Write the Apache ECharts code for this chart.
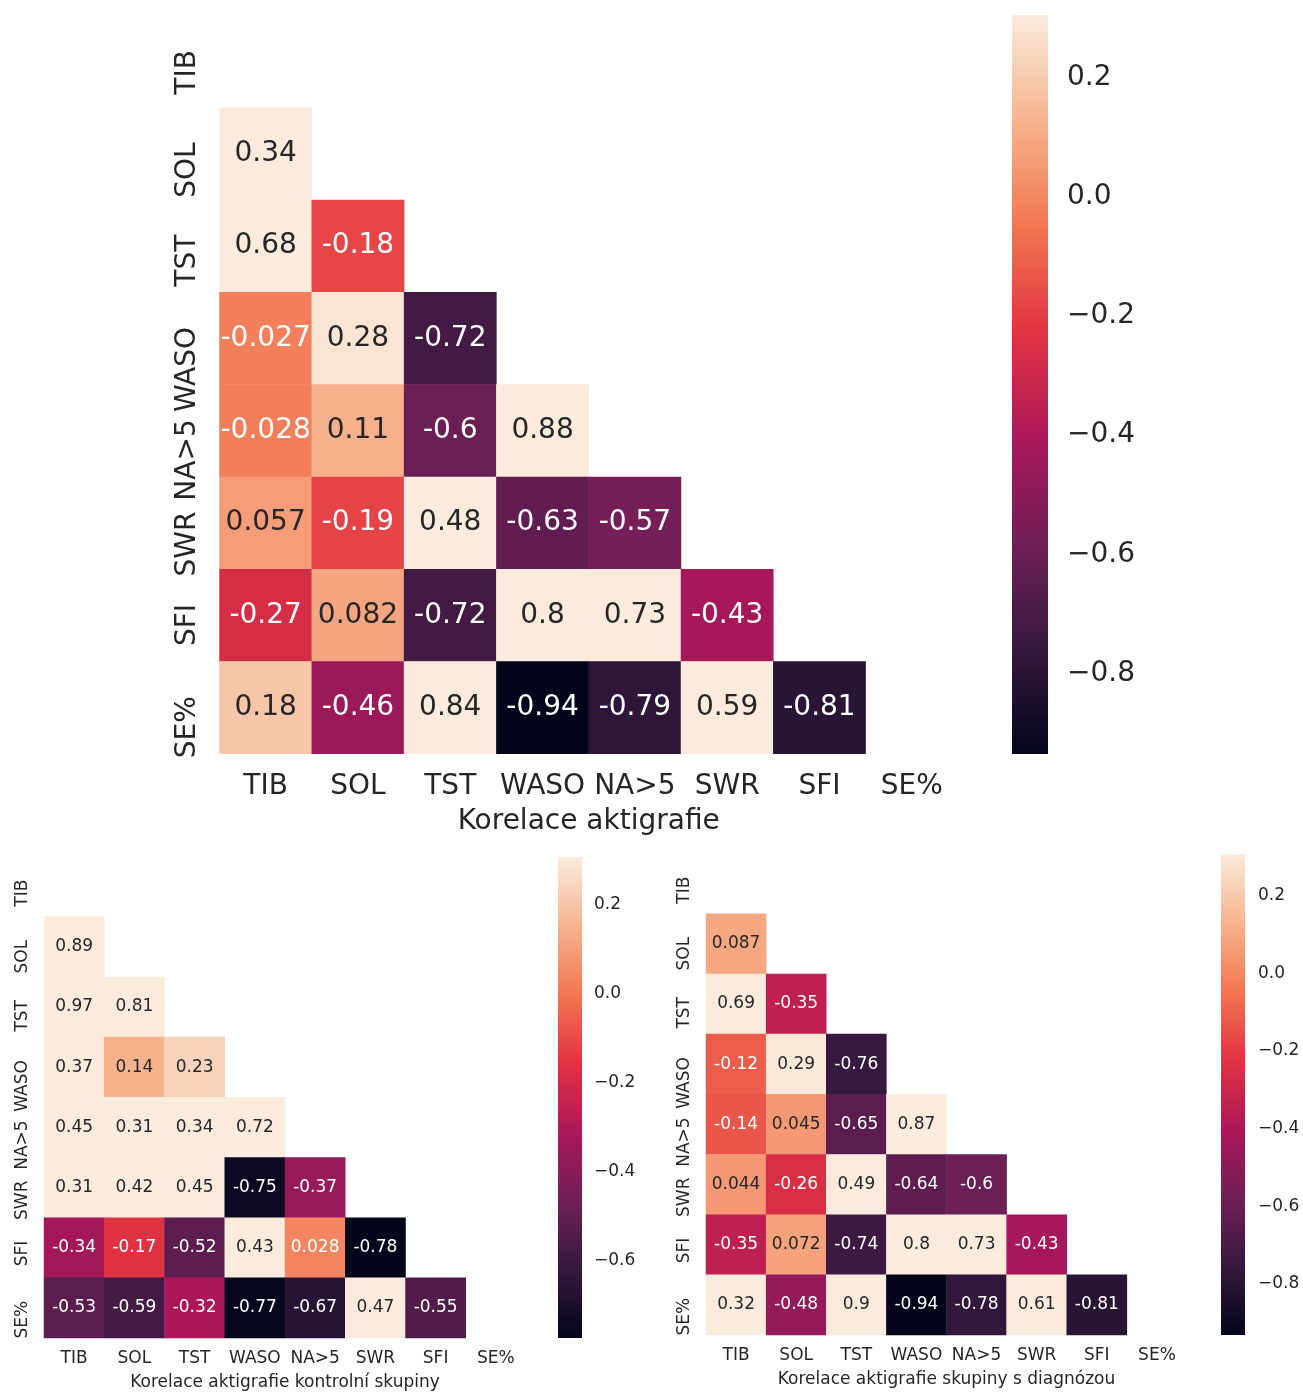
<!DOCTYPE html>
<html>
<head>
<meta charset="utf-8">
<script src="https://cdn.jsdelivr.net/npm/echarts@6/dist/echarts.min.js"></script>
<style>
  html, body { margin: 0; padding: 0; background: #ffffff; }
  #chart { width: 1303px; height: 1393px; }
</style>
</head>
<body>
<div id="chart"></div>
<script>
// Sleep actigraphy variables
const VARS = ['TIB', 'SOL', 'TST', 'WASO', 'NA>5', 'SWR', 'SFI', 'SE%'];

// Lower-triangle correlation rows (row i+1 against columns 0..i)
const corrAll = [
  [0.34],
  [0.68, -0.18],
  [-0.027, 0.28, -0.72],
  [-0.028, 0.11, -0.6, 0.88],
  [0.057, -0.19, 0.48, -0.63, -0.57],
  [-0.27, 0.082, -0.72, 0.8, 0.73, -0.43],
  [0.18, -0.46, 0.84, -0.94, -0.79, 0.59, -0.81]
];
const corrControl = [
  [0.89],
  [0.97, 0.81],
  [0.37, 0.14, 0.23],
  [0.45, 0.31, 0.34, 0.72],
  [0.31, 0.42, 0.45, -0.75, -0.37],
  [-0.34, -0.17, -0.52, 0.43, 0.028, -0.78],
  [-0.53, -0.59, -0.32, -0.77, -0.67, 0.47, -0.55]
];
const corrDiagnosed = [
  [0.087],
  [0.69, -0.35],
  [-0.12, 0.29, -0.76],
  [-0.14, 0.045, -0.65, 0.87],
  [0.044, -0.26, 0.49, -0.64, -0.6],
  [-0.35, 0.072, -0.74, 0.8, 0.73, -0.43],
  [0.32, -0.48, 0.9, -0.94, -0.78, 0.61, -0.81]
];

const TITLES = [
  'Korelace aktigrafie',
  'Korelace aktigrafie kontrolní skupiny',
  'Korelace aktigrafie skupiny s diagnózou'
];
const COLORBAR_TICKS = [-0.8, -0.6, -0.4, -0.2, 0.0, 0.2];
const VMAX = 0.3;

// "rocket" colormap, evenly spaced stops
const ROCKET = ['#03051a', '#35193e', '#701f57', '#ad1759', '#e13342', '#f37651', '#f6b48f', '#faebdd'];

function hexToRgb(h) {
  return [parseInt(h.slice(1, 3), 16), parseInt(h.slice(3, 5), 16), parseInt(h.slice(5, 7), 16)];
}
function rocketAt(t) {
  t = Math.max(0, Math.min(1, t));
  const n = ROCKET.length - 1;
  const i = Math.min(n - 1, Math.floor(t * n));
  const f = t * n - i;
  const a = hexToRgb(ROCKET[i]), b = hexToRgb(ROCKET[i + 1]);
  return a.map((c, k) => c + (b[k] - c) * f);
}
function luminance(rgb) {
  const lin = rgb.map(c => {
    c = c / 255;
    return c <= 0.03928 ? c / 12.92 : Math.pow((c + 0.055) / 1.055, 2.4);
  });
  return 0.2126 * lin[0] + 0.7152 * lin[1] + 0.0722 * lin[2];
}

const FONT = 'DejaVu Sans';
const INK = '#262626';

// Text measuring for the vertical row labels (their upper end sits just above the row centre)
const measureCtx = document.createElement('canvas').getContext('2d');
function textWidth(s, size) {
  measureCtx.font = size + 'px "DejaVu Sans"';
  return measureCtx.measureText(s).width;
}

// Panel geometry
const PANELS = [
  { data: corrAll, title: TITLES[0], font: 28,
    grid: { left: 219.5, top: 15.4, width: 738.4, height: 738.4 },
    cbar: { left: 1012, top: 15, width: 36, height: 739 },
    yMargin: 18, xMargin: 19, nameGap: 54, tickLen: 9, cbMargin: 10 },
  { data: corrControl, title: TITLES[1], font: 17,
    grid: { left: 44, top: 856.5, width: 482, height: 481.5 },
    cbar: { left: 558, top: 857, width: 24, height: 481 },
    yMargin: 13, xMargin: 12, nameGap: 36, tickLen: 6, cbMargin: 6 },
  { data: corrDiagnosed, title: TITLES[2], font: 17,
    grid: { left: 706, top: 853.5, width: 481, height: 481.5 },
    cbar: { left: 1221, top: 854, width: 24, height: 481 },
    yMargin: 13, xMargin: 12, nameGap: 36, tickLen: 6, cbMargin: 7 }
];

const option = {
  backgroundColor: '#ffffff',
  animation: false,
  textStyle: { fontFamily: FONT },
  grid: [], xAxis: [], yAxis: [], series: [], visualMap: []
};

const minusFmt = v => '{v|' + (v < 0 ? '\u2212' : '') + Math.abs(v).toFixed(1) + '}';

PANELS.forEach((p, k) => {
  const flat = p.data.flat();
  const vmin = Math.min(...flat);
  const gi = k * 2, ci = k * 2 + 1;

  // Row label styles: shift each vertical label downward so its upper end
  // lands a fixed distance above the row centre
  const rowRich = {};
  VARS.forEach((v, i) => {
    const off = Math.max(0, textWidth(v, p.font) / 2 - 0.41 * p.font);
    rowRich['r' + i] = { padding: [0, 2 * off, 0, 0], fontSize: p.font, fontFamily: FONT, color: INK };
  });

  // Heatmap grid
  option.grid.push(Object.assign({ outerBoundsMode: 'none', containLabel: false }, p.grid));
  option.xAxis.push({
    type: 'category', data: VARS, gridIndex: gi,
    axisLine: { show: false }, axisTick: { show: false }, splitLine: { show: false },
    axisLabel: { color: INK, fontSize: p.font, fontFamily: FONT, margin: p.xMargin, interval: 0 },
    name: p.title, nameLocation: 'middle', nameGap: p.nameGap,
    nameTextStyle: { color: INK, fontSize: p.font, fontFamily: FONT }
  });
  option.yAxis.push({
    type: 'category', data: VARS, gridIndex: gi, inverse: true,
    axisLine: { show: false }, axisTick: { show: false }, splitLine: { show: false },
    axisLabel: {
      color: INK, fontSize: p.font, fontFamily: FONT, rotate: 90, margin: p.yMargin, interval: 0,
      formatter: (v, i) => '{r' + i + '|' + v + '}',
      rich: rowRich
    }
  });

  const cells = [];
  p.data.forEach((row, r) => {
    row.forEach((v, c) => {
      const clamped = Math.min(VMAX, Math.max(vmin, v));
      const rgb = rocketAt((clamped - vmin) / (VMAX - vmin));
      cells.push({
        value: [c, r + 1, clamped, v],
        label: { color: luminance(rgb) > 0.408 ? INK : '#ffffff' }
      });
    });
  });
  const heatIndex = option.series.length;
  option.series.push({
    type: 'heatmap', xAxisIndex: gi, yAxisIndex: gi,
    data: cells,
    label: {
      show: true, fontSize: p.font, fontFamily: FONT,
      formatter: params => String(params.value[3])
    },
    emphasis: { disabled: true }
  });
  option.visualMap.push({
    type: 'continuous', show: false, seriesIndex: heatIndex, dimension: 2,
    min: vmin, max: VMAX, inRange: { color: ROCKET }
  });

  // Colorbar
  const ticks = COLORBAR_TICKS.filter(t => t >= vmin && t <= VMAX);
  option.grid.push(Object.assign({ outerBoundsMode: 'none', containLabel: false }, p.cbar));
  option.xAxis.push({ type: 'value', gridIndex: ci, min: 0, max: 1, show: false });
  option.yAxis.push({
    type: 'value', gridIndex: ci, min: vmin, max: VMAX, position: 'right',
    axisLine: { show: false }, splitLine: { show: false },
    axisTick: { show: true, customValues: ticks, length: p.tickLen, lineStyle: { color: INK, width: 1.2 } },
    axisLabel: { show: true, customValues: ticks, formatter: minusFmt, color: INK,
                 fontSize: p.font, fontFamily: FONT, margin: p.cbMargin + p.tickLen,
                 rich: { v: { padding: [6, 0, 0, 0], fontSize: p.font, fontFamily: FONT, color: INK } } }
  });
  const stops = ROCKET.map((c, i) => ({ offset: i / (ROCKET.length - 1), color: c }));
  option.series.push({
    type: 'custom', xAxisIndex: ci, yAxisIndex: ci,
    data: [[0, vmin, 1, VMAX]],
    renderItem: (params, api) => {
      const lo = api.coord([api.value(0), api.value(1)]);
      const hi = api.coord([api.value(2), api.value(3)]);
      return {
        type: 'rect',
        shape: { x: lo[0], y: hi[1], width: hi[0] - lo[0], height: lo[1] - hi[1] },
        style: { fill: new echarts.graphic.LinearGradient(0, 1, 0, 0, stops) }
      };
    },
    silent: true
  });
});

const chart = echarts.init(document.getElementById('chart'), null, { renderer: 'canvas' });
chart.setOption(option);
</script>
</body>
</html>
